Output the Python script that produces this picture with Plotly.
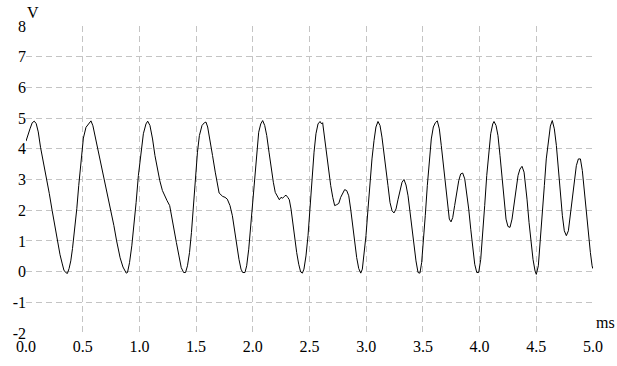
import plotly.graph_objects as go

# time (ms) and voltage (V)
t_ms = [0.000, 0.015, 0.035, 0.055, 0.073, 0.090, 0.108, 0.128, 0.150, 0.180,
        0.205, 0.230, 0.255, 0.276, 0.300, 0.320, 0.334, 0.350, 0.365, 0.380,
        0.395, 0.410, 0.427, 0.448, 0.465, 0.485, 0.506, 0.529, 0.555, 0.573,
        0.590, 0.610, 0.634, 0.660, 0.689, 0.715, 0.747, 0.775, 0.799, 0.830,
        0.855, 0.870, 0.884, 0.895, 0.913, 0.933, 0.953, 0.971, 0.991, 1.012,
        1.035, 1.058, 1.073, 1.093, 1.116, 1.137, 1.157, 1.180, 1.203, 1.224,
        1.244, 1.267, 1.285, 1.302, 1.326, 1.349, 1.369, 1.390, 1.407, 1.424,
        1.442, 1.459, 1.477, 1.494, 1.512, 1.529, 1.552, 1.573, 1.587, 1.602,
        1.622, 1.645, 1.669, 1.689, 1.703, 1.734, 1.755, 1.775, 1.799, 1.820,
        1.837, 1.858, 1.878, 1.896, 1.911, 1.931, 1.946, 1.964, 1.981, 1.999,
        2.017, 2.034, 2.052, 2.070, 2.087, 2.105, 2.123, 2.143, 2.163, 2.181,
        2.198, 2.216, 2.234, 2.249, 2.263, 2.278, 2.293, 2.308, 2.322, 2.337,
        2.352, 2.370, 2.387, 2.405, 2.422, 2.437, 2.451, 2.469, 2.487, 2.504,
        2.522, 2.540, 2.557, 2.575, 2.593, 2.607, 2.616, 2.634, 2.652, 2.669,
        2.687, 2.705, 2.722, 2.740, 2.758, 2.775, 2.793, 2.810, 2.828, 2.846,
        2.863, 2.881, 2.899, 2.916, 2.934, 2.952, 2.966, 2.981, 2.998, 3.016,
        3.034, 3.051, 3.069, 3.086, 3.104, 3.122, 3.139, 3.157, 3.175, 3.192,
        3.210, 3.228, 3.245, 3.263, 3.280, 3.298, 3.316, 3.333, 3.351, 3.369,
        3.386, 3.404, 3.422, 3.439, 3.457, 3.474, 3.489, 3.504, 3.521, 3.539,
        3.557, 3.574, 3.592, 3.610, 3.627, 3.645, 3.662, 3.680, 3.698, 3.715,
        3.733, 3.748, 3.763, 3.780, 3.798, 3.816, 3.833, 3.851, 3.869, 3.886,
        3.904, 3.922, 3.939, 3.957, 3.975, 3.992, 4.010, 4.027, 4.045, 4.063,
        4.080, 4.098, 4.116, 4.127, 4.145, 4.162, 4.180, 4.198, 4.215, 4.233,
        4.250, 4.268, 4.286, 4.303, 4.321, 4.339, 4.356, 4.374, 4.392, 4.400,
        4.418, 4.436, 4.453, 4.471, 4.489, 4.500, 4.518, 4.535, 4.553, 4.571,
        4.588, 4.606, 4.624, 4.641, 4.659, 4.677, 4.694, 4.712, 4.730, 4.747,
        4.765, 4.783, 4.800, 4.818, 4.836, 4.853, 4.871, 4.889, 4.906, 4.924,
        4.942, 4.959, 4.977, 4.992, 4.998]

volts = [4.25, 4.45, 4.65, 4.85, 4.90, 4.82, 4.55, 4.05, 3.65, 3.00,
         2.55, 2.00, 1.45, 1.00, 0.55, 0.25, 0.05, -0.03, -0.06, 0.10,
         0.35, 0.75, 1.30, 2.05, 2.80, 3.65, 4.35, 4.70, 4.85, 4.91,
         4.75, 4.40, 4.00, 3.50, 3.00, 2.60, 2.00, 1.50, 1.00, 0.45,
         0.15, 0.02, -0.05, -0.03, 0.29, 0.84, 1.49, 2.25, 3.13, 3.89,
         4.49, 4.81, 4.90, 4.76, 4.32, 3.78, 3.34, 2.96, 2.64, 2.45,
         2.31, 2.15, 1.82, 1.49, 0.95, 0.51, 0.13, -0.03, -0.03, 0.19,
         0.62, 1.27, 2.15, 3.13, 3.89, 4.43, 4.76, 4.85, 4.87, 4.71,
         4.32, 3.78, 3.24, 2.80, 2.56, 2.45, 2.42, 2.36, 2.15, 1.82,
         1.38, 0.84, 0.40, 0.08, -0.03, -0.03, 0.19, 0.73, 1.49, 2.36,
         3.24, 4.00, 4.54, 4.81, 4.92, 4.76, 4.43, 3.89, 3.34, 2.91,
         2.58, 2.45, 2.34, 2.42, 2.39, 2.45, 2.49, 2.42, 2.34, 2.04,
         1.60, 1.06, 0.62, 0.24, -0.01, -0.05, 0.08, 0.51, 1.17, 2.04,
         3.02, 3.89, 4.49, 4.81, 4.89, 4.81, 4.85, 4.32, 3.78, 3.24,
         2.80, 2.42, 2.15, 2.18, 2.22, 2.42, 2.56, 2.67, 2.64, 2.47,
         2.04, 1.49, 0.95, 0.46, 0.10, -0.05, 0.08, 0.51, 1.17, 2.04,
         2.91, 3.67, 4.27, 4.71, 4.89, 4.76, 4.38, 3.89, 3.34, 2.80,
         2.25, 1.98, 1.91, 2.04, 2.34, 2.69, 2.91, 3.00, 2.82, 2.47,
         1.93, 1.38, 0.84, 0.35, -0.03, -0.05, 0.29, 0.95, 1.82, 2.80,
         3.67, 4.32, 4.71, 4.85, 4.91, 4.65, 4.11, 3.45, 2.80, 2.15,
         1.71, 1.62, 1.76, 2.15, 2.58, 2.96, 3.18, 3.21, 3.02, 2.58,
         2.04, 1.38, 0.73, 0.24, -0.03, -0.03, 0.40, 1.17, 2.15, 3.13,
         3.89, 4.49, 4.81, 4.89, 4.76, 4.43, 3.78, 3.02, 2.25, 1.71,
         1.47, 1.44, 1.71, 2.15, 2.69, 3.13, 3.34, 3.43, 3.24, 3.02,
         2.36, 1.60, 0.95, 0.40, 0.02, -0.09, 0.19, 0.95, 1.82, 2.80,
         3.67, 4.32, 4.74, 4.92, 4.65, 4.11, 3.34, 2.47, 1.82, 1.33,
         1.17, 1.33, 1.82, 2.42, 3.02, 3.45, 3.67, 3.67, 3.29, 2.58,
         1.82, 1.17, 0.62, 0.19, 0.10]

x_ticks = [0.0, 0.5, 1.0, 1.5, 2.0, 2.5, 3.0, 3.5, 4.0, 4.5, 5.0]
y_ticks = [-2, -1, 0, 1, 2, 3, 4, 5, 6, 7, 8]

FONT = "Liberation Sans Narrow"
GRID = "#c4c4c4"

fig = go.Figure(go.Scatter(x=t_ms, y=volts, mode="lines",
                           line=dict(color="black", width=1)))

fig.update_layout(
    width=617, height=366,
    margin=dict(l=26, r=24, t=26, b=33),
    paper_bgcolor="white", plot_bgcolor="white",
    showlegend=False,
    font=dict(family=FONT, size=16, color="black"),
    xaxis=dict(range=[0, 5], tickvals=x_ticks, ticktext=[f"{v:.1f}" for v in x_ticks],
               showgrid=True, gridcolor=GRID, griddash="6px,4px", gridwidth=1,
               zeroline=False, showline=False, ticks="", ticklabelstandoff=2,
               automargin=False),
    yaxis=dict(range=[-2, 8], tickvals=y_ticks, ticktext=[str(v) for v in y_ticks],
               showgrid=True, gridcolor=GRID, griddash="6px,4px", gridwidth=1,
               zeroline=False, showline=False, ticks="", ticklabelstandoff=-1,
               automargin=False),
    annotations=[
        dict(text="V", xref="paper", yref="paper", x=0, y=1, xanchor="left",
             yanchor="bottom", showarrow=False, xshift=-1, yshift=3,
             font=dict(family=FONT, size=16)),
        dict(text="ms", xref="paper", yref="paper", x=1, y=0, xanchor="left",
             yanchor="bottom", showarrow=False, xshift=1, yshift=0,
             font=dict(family=FONT, size=16)),
    ],
)

fig.write_html("out.html")
